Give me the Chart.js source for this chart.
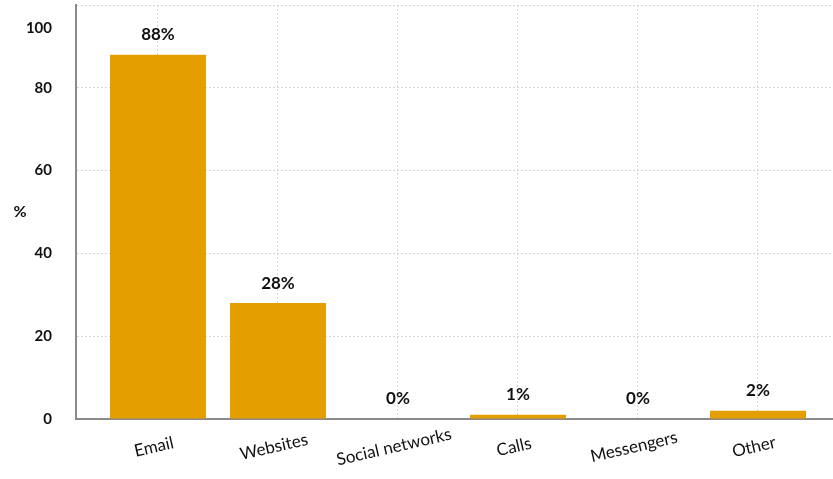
<!DOCTYPE html>
<html>
<head>
<meta charset="utf-8">
<script src="https://cdn.jsdelivr.net/npm/chart.js@4/dist/chart.umd.min.js"></script>
<style>
html,body{margin:0;padding:0;background:#fff}
#wrap{width:833px;height:479px}
</style>
</head>
<body>
<div id="wrap"><canvas id="grafico"></canvas></div>
<script>
let categorias=['Email','Websites','Social networks','Calls','Messengers','Other']
let valores=[88,28,0,1,0,2]
let ticksY=[0,20,40,60,80,100]

let corBarra='#e49e00'
let fonte='Lato'

// rotulos em cima das barras
let rotulosBarras={
id:'rotulosBarras',
afterDatasetsDraw(chart){
let ctx=chart.ctx
let meta=chart.getDatasetMeta(0)
ctx.save()
ctx.font='bold 17px '+fonte
ctx.fillStyle='#111'
ctx.textAlign='center'
ctx.textBaseline='middle'
meta.data.forEach((bar,i)=>{
ctx.fillText(valores[i]+'%',bar.x,bar.y-20)
})
ctx.restore()
}
}

// categorias inclinadas + titulo do eixo + o "100" que fica cortado no topo
let rotulosEixo={
id:'rotulosEixo',
afterDraw(chart){
let ctx=chart.ctx
let x=chart.scales.x
let y=chart.scales.y
let area=chart.chartArea
ctx.save()
ctx.font='17px '+fonte
ctx.fillStyle='#111'
ctx.textAlign='center'
ctx.textBaseline='middle'
categorias.forEach((c,i)=>{
ctx.save()
ctx.translate(x.getPixelForValue(i)-4,area.bottom+28)
ctx.rotate(-13*Math.PI/180)
ctx.fillText(c,0,0)
ctx.restore()
})
ctx.font='bold 16px '+fonte
ctx.fillText('%',20,(area.top+area.bottom)/2)
ctx.font='bold 15px '+fonte
ctx.textAlign='right'
ctx.fillText(String(ticksY[ticksY.length-1]),area.left-24,y.getPixelForValue(ticksY[ticksY.length-1])+23)
ctx.restore()
}
}

new Chart(document.getElementById('grafico'),{
type:'bar',
data:{
datasets:[{
data:valores.map((v,i)=>({x:i,y:v})),
backgroundColor:corBarra,
borderWidth:0,
barPercentage:0.8,
categoryPercentage:1
}]
},
options:{
responsive:true,
maintainAspectRatio:false,
animation:false,
layout:{padding:{top:5,right:0,left:0,bottom:0}},
plugins:{
legend:{display:false},
tooltip:{enabled:false}
},
scales:{
x:{
type:'linear',
min:-0.683,
max:5.625,
offset:false,
afterFit(s){s.height=60;s.paddingTop=0;s.paddingBottom=0},
ticks:{display:false,stepSize:1,includeBounds:false},
grid:{offset:false,color:'#d6d6d6',drawTicks:false,lineWidth:1},
border:{display:true,color:'#8a8a8a',width:2,dash:[2,2]}
},
y:{
min:0,
max:100,
afterFit(s){s.width=76;s.paddingTop=0;s.paddingBottom=0},
afterBuildTicks(s){s.ticks=ticksY.map(v=>({value:v}))},
ticks:{
padding:24,
color:'#111',
font:{family:fonte,size:15,weight:'bold'},
callback:v=>v===100?'':v
},
grid:{color:'#d6d6d6',drawTicks:false,lineWidth:1},
border:{display:true,color:'#8a8a8a',width:2,dash:[2,2]}
}
}
},
plugins:[rotulosBarras,rotulosEixo]
})
</script>
</body>
</html>
